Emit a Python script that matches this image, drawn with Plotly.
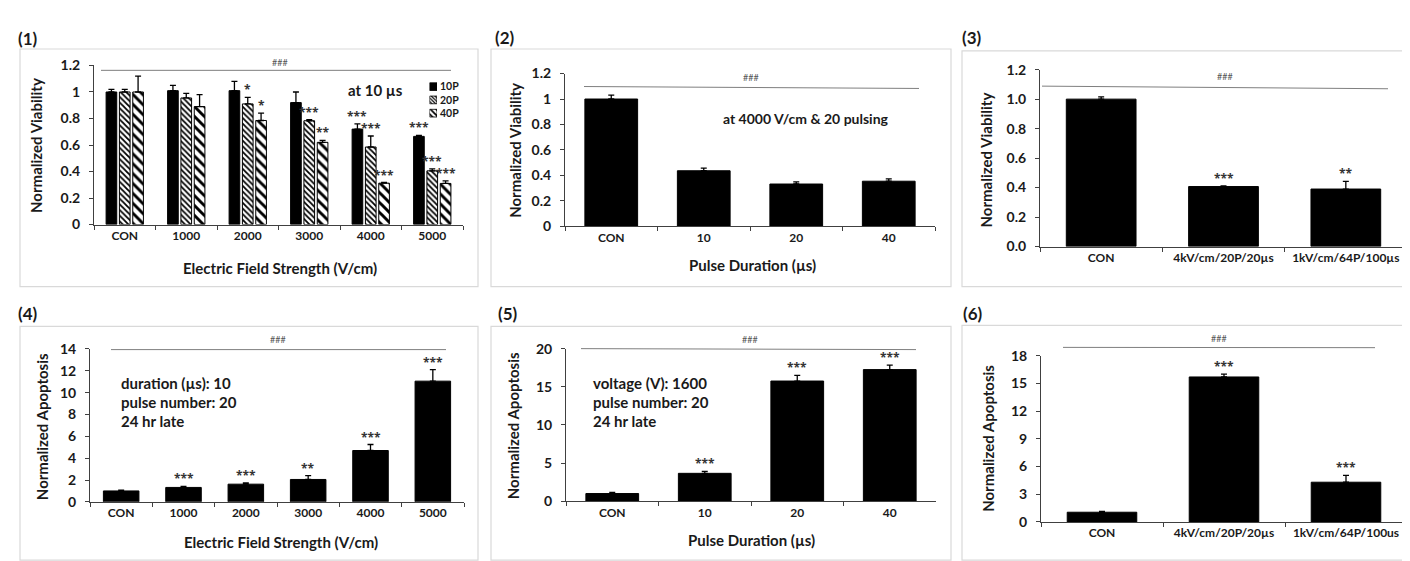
import plotly.graph_objects as go

W, H = 1410, 561
FONT = "Lato"
STAR_FONT = "Open Sans"
TXT = "#1a1a1a"
GRAY = "#7f7f7f"

# ---------------- data ----------------
field_cats = ["CON", "1000", "2000", "3000", "4000", "5000"]
dur_cats = ["CON", "10", "20", "40"]
cond_cats_v = ["CON", "4kV/cm/20P/20µs", "1kV/cm/64P/100µs"]
cond_cats_a = ["CON", "4kV/cm/20P/20µs", "1kV/cm/64P/100us"]

# panel 1: viability vs field strength, three pulse numbers
p1_series = ["10P", "20P", "40P"]
p1_10P = [1.00, 1.01, 1.01, 0.92, 0.72, 0.665]
p1_10P_err = [0.02, 0.04, 0.07, 0.08, 0.04, 0.008]
p1_10P_sig = ["", "", "", "", "***", "***"]
p1_20P = [1.00, 0.955, 0.91, 0.783, 0.585, 0.405]
p1_20P_err = [0.02, 0.035, 0.05, 0.008, 0.083, 0.015]
p1_20P_sig = ["", "", "*", "***", "***", "***"]
p1_40P = [1.00, 0.89, 0.785, 0.62, 0.312, 0.31]
p1_40P_err = [0.12, 0.09, 0.055, 0.015, 0.005, 0.02]
p1_40P_sig = ["", "", "*", "**", "***", "***"]

# panel 2: viability vs pulse duration
p2_vals = [1.00, 0.437, 0.333, 0.355]
p2_err = [0.03, 0.02, 0.017, 0.018]
p2_sig = ["", "", "", ""]

# panel 3: viability, two protocols
p3_vals = [1.00, 0.407, 0.39]
p3_err = [0.015, 0.004, 0.052]
p3_sig = ["", "***", "**"]

# panel 4: apoptosis vs field strength
p4_vals = [1.00, 1.32, 1.62, 2.05, 4.70, 11.05]
p4_err = [0.08, 0.10, 0.12, 0.35, 0.55, 1.05]
p4_sig = ["", "***", "***", "**", "***", "***"]

# panel 5: apoptosis vs pulse duration
p5_vals = [1.00, 3.65, 15.75, 17.25]
p5_err = [0.15, 0.25, 0.75, 0.60]
p5_sig = ["", "***", "***", "***"]

# panel 6: apoptosis, two protocols
p6_vals = [1.05, 15.70, 4.30]
p6_err = [0.08, 0.30, 0.75]
p6_sig = ["", "***", "***"]

y_titles = ["Normalized Viability"] * 3 + ["Normalized Apoptosis"] * 3
x_titles = ["Electric Field Strength (V/cm)", "Pulse Duration (µs)", "",
            "Electric Field Strength (V/cm)", "Pulse Duration (µs)", ""]


def px(x):
    return x / W


def py(y):
    return 1 - y / H


fig = go.Figure()

# ---------------- layout geometry (pixels) ----------------
panels = [
    dict(x=(86, 455), y=(50, 214), rmax=1.2, dtick=0.2, fmt=""),
    dict(x=(557, 927), y=(58.3, 216), rmax=1.2, dtick=0.2, fmt=""),
    dict(x=(1032, 1399), y=(54.3, 236.7), rmax=1.2, dtick=0.2, fmt=".1f"),
    dict(x=(82, 456), y=(342.3, 500), rmax=14, dtick=2, fmt=""),
    dict(x=(558, 928), y=(342, 499.3), rmax=20, dtick=5, fmt=""),
    dict(x=(1033, 1399), y=(349.3, 520.7), rmax=18, dtick=3, fmt=""),
]
cats_list = [field_cats, dur_cats, cond_cats_v, field_cats, dur_cats, cond_cats_a]

err_style = dict(type="data", symmetric=False, color="black", thickness=1.3, width=3)

# ---- panel 1 traces (grouped, patterned) ----
p1_vals = [p1_10P, p1_20P, p1_40P]
p1_errs = [p1_10P_err, p1_20P_err, p1_40P_err]
p1_sigs = [p1_10P_sig, p1_20P_sig, p1_40P_sig]
patterns = [
    dict(shape=""),
    dict(shape="\\", size=4, solidity=0.45, fgcolor="black", bgcolor="white", fillmode="replace"),
    dict(shape="\\", size=7, solidity=0.42, fgcolor="black", bgcolor="white", fillmode="replace"),
]


def bar_marker(pat):
    return dict(color="black" if not pat["shape"] else "white",
                line=dict(color="black", width=1), pattern=pat)


for name, vals, errs, pat in zip(p1_series, p1_vals, p1_errs, patterns):
    fig.add_trace(go.Bar(
        x=field_cats, y=vals, name=name, xaxis="x", yaxis="y",
        marker=bar_marker(pat),
        error_y=dict(array=errs, arrayminus=[0] * len(errs), **err_style),
        showlegend=False,
    ))

# compact legend for panel 1: swatches drawn in a tiny key axis
key_patterns = [
    dict(shape=""),
    dict(shape="\\", size=2.5, solidity=0.45, fgcolor="black", bgcolor="white", fillmode="replace"),
    dict(shape="\\", size=4, solidity=0.45, fgcolor="black", bgcolor="white", fillmode="replace"),
]
for name, pat in zip(p1_series, key_patterns):
    fig.add_trace(go.Bar(
        y=[name], x=[1], orientation="h", xaxis="x7", yaxis="y7", width=0.58,
        marker=dict(color="black" if not pat["shape"] else "white",
                    line=dict(color="black", width=0.8), pattern=pat),
        showlegend=False, hoverinfo="skip",
    ))

# ---- single-series panels ----
singles = [
    (2, dur_cats, p2_vals, p2_err),
    (3, cond_cats_v, p3_vals, p3_err),
    (4, field_cats, p4_vals, p4_err),
    (5, dur_cats, p5_vals, p5_err),
    (6, cond_cats_a, p6_vals, p6_err),
]
for idx, cats, vals, errs in singles:
    fig.add_trace(go.Bar(
        x=cats, y=vals, xaxis=f"x{idx}", yaxis=f"y{idx}", width=0.57,
        marker=dict(color="black", line=dict(color="black", width=1)),
        error_y=dict(array=errs, arrayminus=[0] * len(errs), **err_style),
        showlegend=False,
    ))

# ---- axes ----
tick_y_font = dict(family=FONT, size=14, color=TXT, weight="bold")
tick_x_font = dict(family=FONT, size=12, color=TXT, weight="bold")
for i, (p, cats) in enumerate(zip(panels, cats_list), start=1):
    sx = "" if i == 1 else str(i)
    fig.layout[f"xaxis{sx}"] = dict(
        domain=[px(p["x"][0]), px(p["x"][1])], anchor=f"y{sx}",
        type="category", categoryorder="array", categoryarray=cats,
        range=[-0.5, len(cats) - 0.5], showline=True, linecolor="#404040", linewidth=1,
        ticks="outside", tickson="boundaries", ticklen=4, tickcolor="#404040",
        tickfont=tick_x_font, showgrid=False, zeroline=False, fixedrange=True,
    )
    fig.layout[f"yaxis{sx}"] = dict(
        domain=[py(p["y"][1]), py(p["y"][0])], anchor=f"x{sx}",
        range=[0, p["rmax"]], dtick=p["dtick"], tick0=0, tickformat=p["fmt"],
        showline=True, linecolor="#404040", linewidth=1,
        ticks="outside", ticklen=4, tickcolor="#404040", ticklabelstandoff=6,
        tickfont=tick_y_font, showgrid=False, zeroline=False, fixedrange=True,
    )

# key axis (legend of panel 1)
fig.layout["xaxis7"] = dict(domain=[px(421.5), px(429)], anchor="y7", range=[0, 1],
                            visible=False, fixedrange=True)
fig.layout["yaxis7"] = dict(domain=[py(106), py(65)], anchor="x7", type="category",
                            categoryorder="array", categoryarray=p1_series,
                            tickmode="array", tickvals=p1_series, ticktext=p1_series,
                            autorange="reversed", side="right", showline=False,
                            ticks="", showgrid=False, zeroline=False, ticklabelstandoff=2,
                            tickfont=dict(family=FONT, size=10.5, color=TXT, weight="bold"),
                            fixedrange=True)

annotations = []
shapes = []


def star(xref, yref, x, y, s):
    if s:
        annotations.append(dict(xref=xref, yref=yref, x=x, y=y, text=s, showarrow=False,
                                yanchor="bottom", yshift=-3,
                                font=dict(family=STAR_FONT, size=12, color="#333333",
                                          weight="bold")))


slot = (1 - 0.35) / 3
for k, (vals, errs, sigs) in enumerate(zip(p1_vals, p1_errs, p1_sigs)):
    for j in range(len(field_cats)):
        star("x", "y", j + (k - 1) * slot, vals[j] + errs[j], sigs[j])

for idx, cats, vals, errs, sigs in [
    (2, dur_cats, p2_vals, p2_err, p2_sig),
    (3, cond_cats_v, p3_vals, p3_err, p3_sig),
    (4, field_cats, p4_vals, p4_err, p4_sig),
    (5, dur_cats, p5_vals, p5_err, p5_sig),
    (6, cond_cats_a, p6_vals, p6_err, p6_sig),
]:
    for j in range(len(cats)):
        star(f"x{idx}", f"y{idx}", j, vals[j] + errs[j], sigs[j])

# ---- panel frames ----
frames = [(12, 33, 470, 278), (483, 33, 943, 278), (954, 35, 1405, 278),
          (12, 319, 470, 560), (483, 319, 943, 560), (954, 318, 1405, 560)]
for x0, y0, x1, y1 in frames:
    shapes.append(dict(type="rect", xref="paper", yref="paper",
                       x0=px(x0), x1=px(x1), y0=py(y1), y1=py(y0),
                       line=dict(color="#d9d9d9", width=1.2), layer="below"))

# ---- ### comparison lines ----
hash_lines = [((93, 55), (443, 55), (272, 47)),
              ((576, 71.7), (911, 73.7), (743, 62)),
              ((1034, 71.3), (1380, 74), (1217, 61)),
              ((103, 343), (438, 343), (270, 333)),
              ((573, 342), (908, 343), (742, 333)),
              ((1055, 340.7), (1367, 341), (1211, 332))]
for (ax0, ay0), (ax1, ay1), (tx, ty) in hash_lines:
    shapes.append(dict(type="line", xref="paper", yref="paper",
                       x0=px(ax0), x1=px(ax1), y0=py(ay0), y1=py(ay1),
                       line=dict(color=GRAY, width=1)))
    annotations.append(dict(xref="paper", yref="paper", x=px(tx), y=py(ty), text="###",
                            showarrow=False, xanchor="center", yanchor="middle",
                            font=dict(family=FONT, size=9, color="#555555")))

# ---- panel labels ----
for lab, (lx, ly) in zip(["(1)", "(2)", "(3)", "(4)", "(5)", "(6)"],
                         [(8, 22), (485, 21), (952, 21), (8, 306), (488, 306), (953, 306)]):
    annotations.append(dict(xref="paper", yref="paper", x=px(lx), y=py(ly), text=lab,
                            showarrow=False, xanchor="left", yanchor="middle",
                            font=dict(family=FONT, size=17, color=TXT, weight="bold")))

# ---- axis titles ----
ytitle_pos = [(28, 133), (507, 138), (978, 148), (34, 423), (505, 422), (980, 435)]
for t, (tx, ty) in zip(y_titles, ytitle_pos):
    annotations.append(dict(xref="paper", yref="paper", x=px(tx), y=py(ty), text=t,
                            showarrow=False, textangle=-90, xanchor="center", yanchor="middle",
                            font=dict(family=FONT, size=15, color=TXT, weight="bold")))
xtitle_pos = [(272, 259), (744, 256), None, (273, 541), (743, 539), None]
for t, pos in zip(x_titles, xtitle_pos):
    if t and pos:
        annotations.append(dict(xref="paper", yref="paper", x=px(pos[0]), y=py(pos[1]), text=t,
                                showarrow=False, xanchor="center", yanchor="middle",
                                font=dict(family=FONT, size=15, color=TXT, weight="bold")))

# ---- condition notes ----
note_font = dict(family=FONT, size=15, color=TXT, weight="bold")
annotations.append(dict(xref="paper", yref="paper", x=px(367), y=py(75), text="at 10 µs",
                        showarrow=False, xanchor="center", yanchor="middle", font=note_font))
annotations.append(dict(xref="paper", yref="paper", x=px(798), y=py(105),
                        text="at 4000 V/cm & 20 pulsing",
                        showarrow=False, xanchor="center", yanchor="middle",
                        font=dict(family=FONT, size=14, color=TXT, weight="bold")))
for tx, lines in [(111, ["duration (µs): 10", "pulse number: 20", "24 hr late"]),
                  (583, ["voltage (V): 1600", "pulse number: 20", "24 hr late"])]:
    for k, line in enumerate(lines):
        annotations.append(dict(xref="paper", yref="paper", x=px(tx), y=py(377 + 20 * k),
                                text=line, showarrow=False, xanchor="left", yanchor="middle",
                                font=note_font))

fig.update_layout(
    width=W, height=H, margin=dict(l=0, r=0, t=0, b=0),
    paper_bgcolor="white", plot_bgcolor="white",
    barmode="group", bargap=0.35, bargroupgap=0.2,
    font=dict(family=FONT, color=TXT),
    showlegend=False,
    annotations=annotations, shapes=shapes,
)

fig.write_html("out.html")
